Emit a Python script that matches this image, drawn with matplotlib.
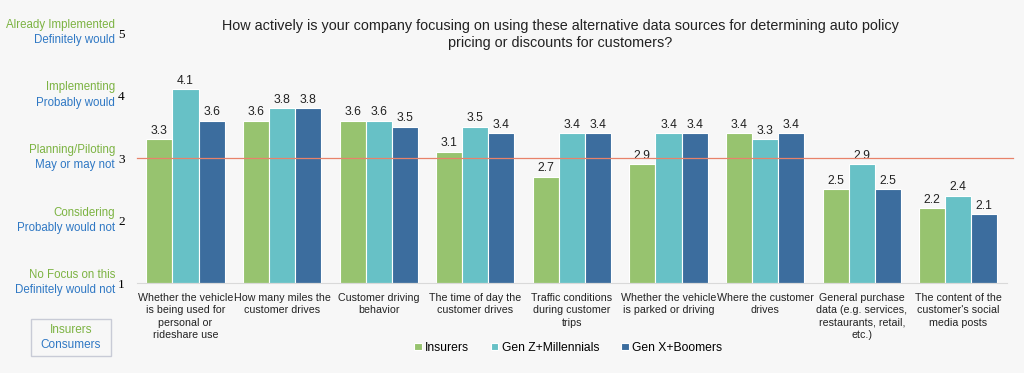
import numpy as np
import matplotlib.pyplot as plt
from matplotlib.patches import Rectangle

categories = [
    "Whether the vehicle\nis being used for\npersonal or\nrideshare use",
    "How many miles the\ncustomer drives",
    "Customer driving\nbehavior",
    "The time of day the\ncustomer drives",
    "Traffic conditions\nduring customer\ntrips",
    "Whether the vehicle\nis parked or driving",
    "Where the customer\ndrives",
    "General purchase\ndata (e.g. services,\nrestaurants, retail,\netc.)",
    "The content of the\ncustomer's social\nmedia posts",
]
insurers = [3.3, 3.6, 3.6, 3.1, 2.7, 2.9, 3.4, 2.5, 2.2]
gen_z_millennials = [4.1, 3.8, 3.6, 3.5, 3.4, 3.4, 3.3, 2.9, 2.4]
gen_x_boomers = [3.6, 3.8, 3.5, 3.4, 3.4, 3.4, 3.4, 2.5, 2.1]

series_names = ["Insurers", "Gen Z+Millennials", "Gen X+Boomers"]
insurer_scale = ["No Focus on this", "Considering", "Planning/Piloting",
                 "Implementing", "Already Implemented"]
consumer_scale = ["Definitely would not", "Probably would not", "May or may not",
                  "Probably would", "Definitely would"]
title = ("How actively is your company focusing on using these alternative data sources for determining auto policy\n"
         "pricing or discounts for customers?")

colors = ["#97c36f", "#67c1c6", "#3c6d9e"]
green_txt = "#7cb342"
blue_txt = "#2f78c4"
bg = "#f7f7f7"

plt.rcParams['font.family'] = ["Liberation Sans", "DejaVu Sans"]

fig = plt.figure(figsize=(10.24, 3.73), dpi=100, facecolor=bg)
ax = fig.add_axes([0.134, 0.241, 0.849, 0.6705], facecolor=bg)

x = np.arange(len(categories))
w = 0.27
for i, (vals, c, name) in enumerate(zip([insurers, gen_z_millennials, gen_x_boomers], colors, series_names)):
    pos = x + (i - 1) * w
    ax.bar(pos, np.array(vals) - 1, bottom=1, width=w, color=c,
           edgecolor="white", linewidth=0.8, label=name, zorder=2)
    for p, v in zip(pos, vals):
        ax.text(p, v + 0.04, f"{v:.1f}", ha="center", va="bottom", fontsize=8.7, color="#222222")

# midpoint reference line
ax.axhline(3, color="#e8826a", linewidth=0.9, xmin=0, xmax=1.007, clip_on=False, zorder=3)

ax.set_ylim(1, 5)
ax.set_xlim(-0.5, len(categories) - 0.5)
ax.set_yticks([1, 2, 3, 4, 5])
ax.set_yticklabels(["1", "2", "3", "4", "5"], family="Liberation Serif", fontsize=9.5)
ax.set_xticks(x)
ax.set_xticklabels(categories, fontsize=7.7, color="#222222", linespacing=1.3)
ax.tick_params(axis="both", length=0)
ax.tick_params(axis="x", pad=7)
ax.tick_params(axis="y", pad=9)
for s in ["top", "right", "left"]:
    ax.spines[s].set_visible(False)
ax.spines["bottom"].set_color("#d9d9d9")

for i in range(5):
    y = i + 1
    ax.annotate(insurer_scale[i], xy=(0, y), xycoords=("axes fraction", "data"),
                xytext=(-16, 5.8), textcoords="offset points", ha="right", va="center",
                fontsize=8.3, color=green_txt)
    ax.annotate(consumer_scale[i], xy=(0, y), xycoords=("axes fraction", "data"),
                xytext=(-16, -5.2), textcoords="offset points", ha="right", va="center",
                fontsize=8.3, color=blue_txt)

fig.text(0.547, 0.95, title, ha="center", va="top", fontsize=10.4, color="#222222", linespacing=1.3)

fig.patches.append(Rectangle((0.030, 0.045), 0.078, 0.10, transform=fig.transFigure,
                             facecolor=bg, edgecolor="#c8cbd6", linewidth=1))
fig.text(0.069, 0.115, "Insurers", ha="center", va="center", fontsize=8.5, color=green_txt)
fig.text(0.069, 0.075, "Consumers", ha="center", va="center", fontsize=8.5, color=blue_txt)

fig.legend(loc="center", bbox_to_anchor=(0.555, 0.068), ncol=3, frameon=False, fontsize=8.7,
           handlelength=0.6, handleheight=0.6, handletextpad=0.3, columnspacing=1.8)

fig.savefig("out.png", dpi=100, facecolor=bg)
